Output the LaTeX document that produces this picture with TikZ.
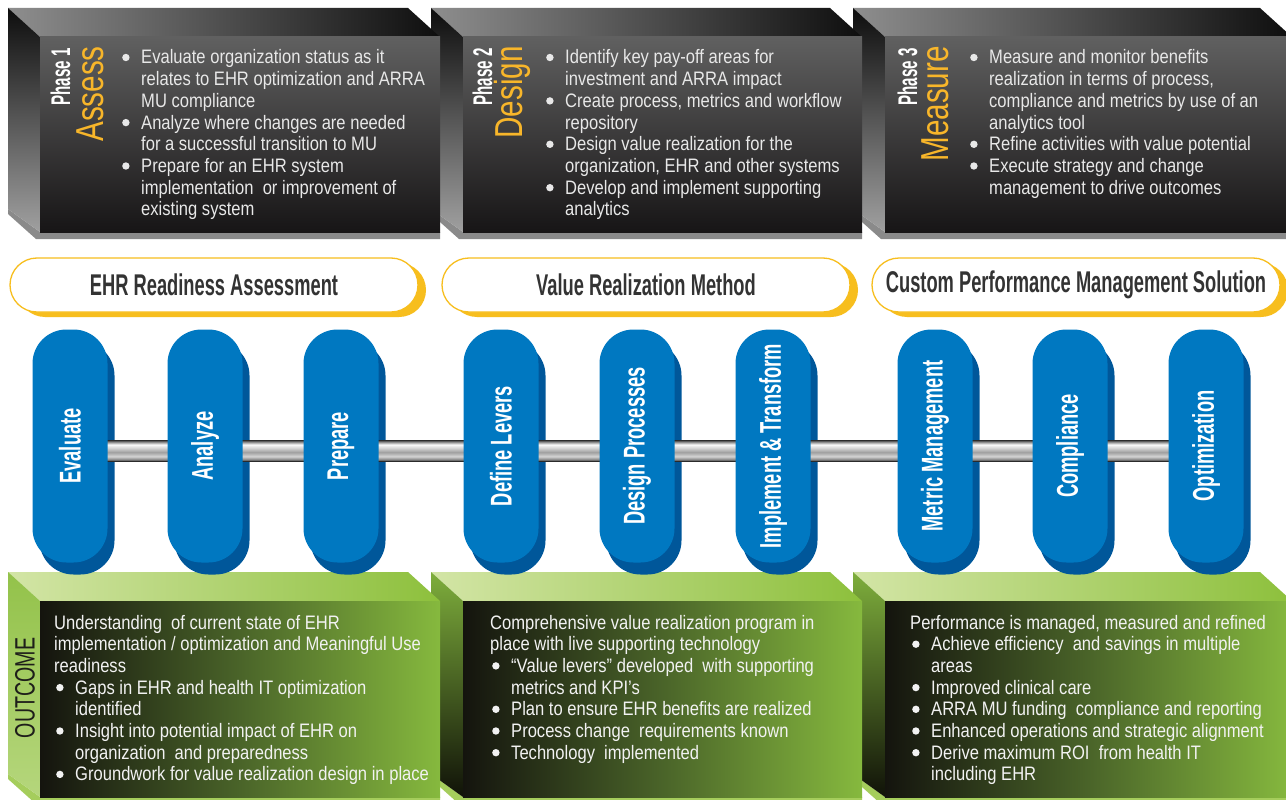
\documentclass[tikz,border=0pt]{standalone}
\usepackage{fontspec}
\setmainfont{Liberation Sans}
\newfontfamily\bodyf{Liberation Sans}[FakeStretch=0.85]
\newfontfamily\condf{Liberation Sans}[FakeStretch=0.61]
\newfontfamily\phasef{Liberation Sans}[FakeStretch=0.56]
\newfontfamily\bigf{Liberation Sans}[FakeStretch=0.76]
\newfontfamily\outf{Liberation Sans}[FakeStretch=0.7]

\definecolor{pillblue}{HTML}{0078C1}
\definecolor{pillshadow}{HTML}{00579A}
\definecolor{bannery}{HTML}{F7BE1E}
\definecolor{amber}{HTML}{F8B62A}
\definecolor{titlegray}{HTML}{333333}
\definecolor{toptxt}{HTML}{E8E8E8}
\definecolor{bottxt}{HTML}{F2F2F2}
\definecolor{outc}{HTML}{1E1E1A}
\definecolor{dtopL}{HTML}{8E8E8E}
\definecolor{dtopR}{HTML}{0E0E0E}
\definecolor{dsideT}{HTML}{0D0D0D}
\definecolor{dsideB}{HTML}{A0A0A0}
\definecolor{dbot}{HTML}{8A8A8A}
\definecolor{dfrontT}{HTML}{606060}
\definecolor{dfrontB}{HTML}{171516}
\definecolor{gtopL}{HTML}{D3E5A6}
\definecolor{gtopR}{HTML}{8DC03C}
\definecolor{gsideAT}{HTML}{93C24A}
\definecolor{gsideAB}{HTML}{B5D67C}
\definecolor{gsideT}{HTML}{7EAE3C}
\definecolor{gsideB}{HTML}{101208}
\definecolor{gbot}{HTML}{A5CD5C}
\definecolor{gfrontL}{HTML}{14140E}
\definecolor{gfrontM}{HTML}{4A6429}
\definecolor{gfrontR}{HTML}{86B93E}
\definecolor{rodk}{HTML}{2A2A2A}
\definecolor{rodm}{HTML}{808080}
\definecolor{rodl}{HTML}{D4D4D4}
\definecolor{rodg}{HTML}{A0A0A0}
\definecolor{rodw}{HTML}{FAFAFA}

\pgfdeclareverticalshading{rodshade}{100bp}{color(0bp)=(rodk); color(25bp)=(rodk); color(28bp)=(rodm); color(36bp)=(rodl); color(46bp)=(rodg); color(56bp)=(rodl); color(64bp)=(rodw); color(71bp)=(rodm); color(75bp)=(rodk); color(100bp)=(rodk)}

\newcommand\bdot{\tikz[baseline=0pt,x=1pt,y=1pt]{\fill (4.2,6.5) circle (3.7pt);}}
\newcommand\bl{\makebox[19pt][l]{\bdot}}
\newcommand\ci{\hspace*{19pt}}

\newcommand\darkblock[2]{%
 \shade[left color=dtopL, right color=dtopR] ({#1-32},8) -- ({#2-32},8) -- (#2,37) -- (#1,37) -- cycle;
 \fill[dbot] ({#1-32},209) -- (#1,232) -- (#2,232) -- (#2,239) -- ({#1-4},239) -- ({#1-32},214) -- cycle;
 \shade[top color=dsideT, bottom color=dsideB] ({#1-32},8) -- (#1,37) -- (#1,232) -- ({#1-32},209) -- cycle;
 \shade[top color=dfrontT, bottom color=dfrontB] (#1,37) rectangle (#2,232);
}
\newcommand\greenblock[4]{%
 \shade[left color=gtopL, right color=gtopR] ({#1-32},572) -- ({#2-32},572) -- (#2,601) -- (#1,601) -- cycle;
 \fill[gbot] ({#1-32},774) -- (#1,797) -- (#2,797) -- (#2,804) -- ({#1-4},804) -- ({#1-32},779) -- cycle;
 \shade[top color=#3, bottom color=#4] ({#1-32},572) -- (#1,601) -- (#1,797) -- ({#1-32},774) -- cycle;
 \shade[left color=gfrontL, right color=gfrontR, middle color=gfrontM] (#1,601) rectangle (#2,797);
}

\begin{document}
\begin{tikzpicture}[x=1pt,y=-1pt,
 pillshape/.style={rectangle, rounded corners=34pt, minimum width=233pt, minimum height=75pt, rotate=90, inner sep=0pt},
 pillfront/.style={pillshape, fill=pillblue, text=white, font=\condf\bfseries\fontsize{30}{30}\selectfont},
 pillback/.style={pillshape, fill=pillshadow},
 bannerbase/.style={rectangle, rounded corners=27pt, minimum width=408pt, minimum height=54pt, inner sep=0pt},
 bannerfront/.style={bannerbase, fill=white, draw=bannery, line width=1.3pt, text=titlegray, font=\condf\bfseries\fontsize{30}{30}\selectfont},
 bannerback/.style={bannerbase, fill=bannery},
 bodytxt/.style={anchor=base west, inner sep=0pt, font=\bodyf\fontsize{19.5}{21.7}\selectfont},
 phaselbl/.style={rotate=90, anchor=base east, inner sep=0pt, text=white, font=\phasef\bfseries\fontsize{27}{27}\selectfont},
 phasename/.style={rotate=90, anchor=base east, inner sep=0pt, text=amber, font=\bigf\fontsize{39}{39}\selectfont}
]
\useasboundingbox (0,0) rectangle (1286,800);
\clip (0,0) rectangle (1286,800);
\fill[white] (0,0) rectangle (1286,800);

% top phase blocks
\darkblock{885}{1292}
\darkblock{463}{862}
\darkblock{40}{440}

% bottom outcome blocks
\greenblock{885}{1292}{gsideT}{gsideB}
\greenblock{463}{862}{gsideT}{gsideB}
\greenblock{40}{440}{gsideAT}{gsideAB}

% phase labels
\node[phaselbl] (ph1) at (70,48) {Phase 1};
\node[phasename] (pn1) at (103,46) {Assess};
\node[phaselbl] (ph2) at (492,48) {Phase 2};
\node[phasename] (pn2) at (522,46) {Design};
\node[phaselbl] (ph3) at (917,48) {Phase 3};
\node[phasename] (pn3) at (948,46) {Measure};

% top texts
\node[bodytxt, text=toptxt] (t1) at (122,64) {\parbox[t]{320pt}{%
\bl Evaluate organization status as it\\
\ci relates to EHR optimization and ARRA\\
\ci MU compliance\\
\bl Analyze where changes are needed\\
\ci for a successful transition to MU\\
\bl Prepare for an EHR system\\
\ci implementation~ or improvement of\\
\ci existing system}};
\node[bodytxt, text=toptxt] (t2) at (546,64) {\parbox[t]{320pt}{%
\bl Identify key pay-off areas for\\
\ci investment and ARRA impact\\
\bl Create process, metrics and workflow\\
\ci repository\\
\bl Design value realization for the\\
\ci organization, EHR and other systems\\
\bl Develop and implement supporting\\
\ci analytics}};
\node[bodytxt, text=toptxt] (t3) at (970,64) {\parbox[t]{320pt}{%
\bl Measure and monitor benefits\\
\ci realization in terms of process,\\
\ci compliance and metrics by use of an\\
\ci analytics tool\\
\bl Refine activities with value potential\\
\bl Execute strategy and change\\
\ci management to drive outcomes}};

% banners
\node[bannerback] (bs1) at (222,290) {};
\node[bannerfront] (b1) at (214,285) {EHR Readiness Assessment};
\node[bannerback] (bs2) at (654,290) {};
\node[bannerfront] (b2) at (646,285) {Value Realization Method};
\node[bannerback] (bs3) at (1084,290) {};
\node[bannerfront] (b3) at (1076,285) {Custom Performance Management Solution};

% pill shadows
\foreach \i/\x in {1/70,2/205,3/341,4/501,5/637,6/773,7/935,8/1070,9/1206}
  \node[pillback] (s\i) at ({\x+7},458) {};

% rod
\shade[shading=rodshade] (s1.center |- 0,440) rectangle (s9.center |- 0,461);

% pills
\foreach \i/\x/\t in {1/70/Evaluate,2/205/Analyze,3/341/Prepare,4/501/Define Levers,5/637/Design Processes,6/773/Implement \& Transform,7/935/Metric Management,8/1070/Compliance,9/1206/Optimization}
  \node[pillfront] (p\i) at (\x,446) {\t};

% outcome label
\node[rotate=90, inner sep=0pt, text=outc, font=\outf\fontsize{28}{28}\selectfont] (oc) at (25,688) {OUTCOME};

% bottom texts
\node[bodytxt, text=bottxt] (o1) at (54,629) {\parbox[t]{400pt}{%
Understanding~ of current state of EHR\\
implementation / optimization and Meaningful Use\\
readiness\\
\hspace*{2pt}\bl Gaps in EHR and health IT optimization\\
\hspace*{21pt}identified\\
\hspace*{2pt}\bl Insight into potential impact of EHR on\\
\hspace*{21pt}organization~ and preparedness\\
\hspace*{2pt}\bl Groundwork for value realization design in place}};
\node[bodytxt, text=bottxt] (o2) at (490,629) {\parbox[t]{400pt}{%
Comprehensive value realization program in\\
place with live supporting technology\\
\hspace*{2pt}\bl “Value levers” developed~ with supporting\\
\hspace*{21pt}metrics and KPI’s\\
\hspace*{2pt}\bl Plan to ensure EHR benefits are realized\\
\hspace*{2pt}\bl Process change~ requirements known\\
\hspace*{2pt}\bl Technology~ implemented}};
\node[bodytxt, text=bottxt] (o3) at (910,629) {\parbox[t]{400pt}{%
Performance is managed, measured and refined\\
\hspace*{2pt}\bl Achieve efficiency~ and savings in multiple\\
\hspace*{21pt}areas\\
\hspace*{2pt}\bl Improved clinical care\\
\hspace*{2pt}\bl ARRA MU funding~ compliance and reporting\\
\hspace*{2pt}\bl Enhanced operations and strategic alignment\\
\hspace*{2pt}\bl Derive maximum ROI~ from health IT\\
\hspace*{21pt}including EHR}};
\end{tikzpicture}
\end{document}
